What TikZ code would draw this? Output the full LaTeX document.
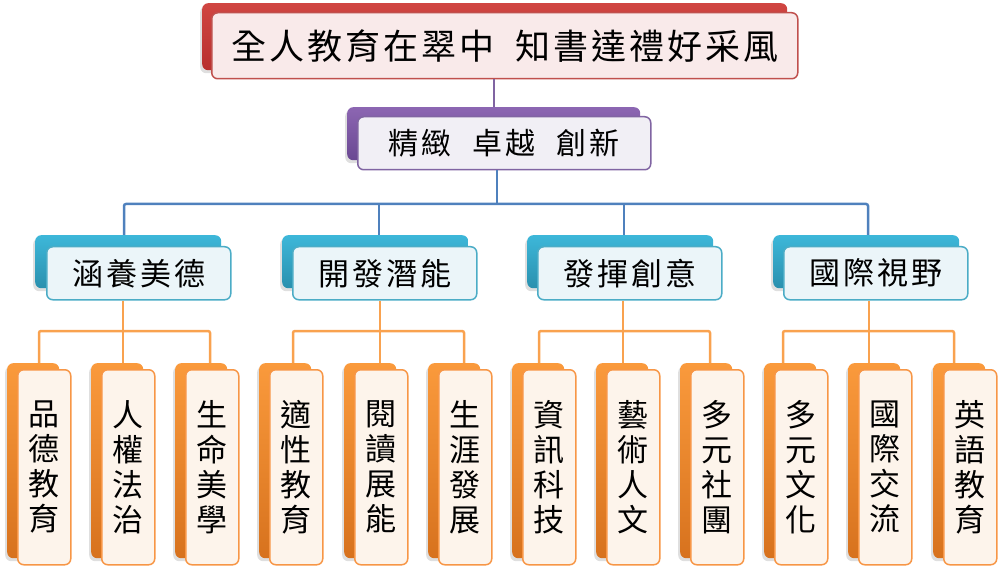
\documentclass[tikz,border=0pt]{standalone}
\usepackage{fontspec}
\newfontfamily\cjk{Noto Sans CJK TC}
\usetikzlibrary{shadows,calc}
\definecolor{redtop}{HTML}{D04642}
\definecolor{redbot}{HTML}{B8302E}
\definecolor{redfront}{HTML}{F9EAEA}
\definecolor{redborder}{HTML}{C0504D}
\definecolor{purtop}{HTML}{8C66B2}
\definecolor{purbot}{HTML}{6A4892}
\definecolor{purfront}{HTML}{F1EFF5}
\definecolor{purborder}{HTML}{8064A2}
\definecolor{cyantop}{HTML}{3DB7D9}
\definecolor{cyanbot}{HTML}{2A90AE}
\definecolor{cyanfront}{HTML}{EBF5F9}
\definecolor{cyanborder}{HTML}{4BACC6}
\definecolor{ortop}{HTML}{FA9A3C}
\definecolor{orbot}{HTML}{D7721E}
\definecolor{orfront}{HTML}{FDF4EB}
\definecolor{orborder}{HTML}{F79646}
\definecolor{blueln}{HTML}{4F81BD}
\definecolor{orln}{HTML}{F9A24F}
\definecolor{purln}{HTML}{8064A2}
\newcommand\cg{\kern3pt}
\begin{document}
\begin{tikzpicture}[x=1pt,y=-1pt,
  backbox/.style={rounded corners=6pt, anchor=north west, inner sep=0pt,
    drop shadow={opacity=0.25, shadow xshift=-2pt, shadow yshift=-3pt}},
  frontbox/.style={draw, line width=1.5pt, rounded corners=6pt, anchor=north west,
    inner sep=0pt, align=center, text=black},
  redback/.style={backbox, top color=redtop, bottom color=redbot},
  purback/.style={backbox, top color=purtop, bottom color=purbot},
  cyanback/.style={backbox, top color=cyantop, bottom color=cyanbot, minimum width=186pt, minimum height=53pt},
  orback/.style={backbox, top color=ortop, bottom color=orbot, minimum width=52pt, minimum height=195pt},
  cyanfrontbox/.style={frontbox, fill=cyanfront, draw=cyanborder, minimum width=184pt, minimum height=53pt,
    font={\cjk\fontsize{31}{36}\selectfont}},
  orfrontbox/.style={frontbox, fill=orfront, draw=orborder, minimum width=53pt, minimum height=195pt,
    font={\cjk\fontsize{31}{35}\selectfont}},
  purline/.style={draw=purln, line width=2pt},
  blueline/.style={draw=blueln, line width=2.5pt, rounded corners=2pt},
  orline/.style={draw=orln, line width=2.5pt, rounded corners=2pt}
]
\path[use as bounding box] (0,0) rectangle (1006,569);

% ---------- nodes (drawn later via layers order: lines first) ----------
% coordinates for junctions
\coordinate (bus) at (497,204);
\coordinate (j1) at (124,204);
\coordinate (j2) at (379,204);
\coordinate (j3) at (624,204);
\coordinate (j4) at (868,204);
\foreach \i/\m/\a/\c in {1/123/39/210, 2/380/293/464, 3/623/539/710, 4/869/783/954}{
  \coordinate (om\i) at (\m,331);
  \coordinate (oa\i) at (\a,331);
  \coordinate (oc\i) at (\c,331);
}

% invisible placement of boxes to get anchors: define nodes in order
% top
\node[redback, minimum width=585pt, minimum height=67pt] (topb) at (202,3) {};
\node[purback, minimum width=293pt, minimum height=53pt] (midb) at (347,107) {};
\foreach \i/\x in {1/35, 2/282, 3/527, 4/773}{
  \node[cyanback] (lb\i) at (\x,235) {};
}
\foreach \g/\xa/\xb/\xc in {1/17/101/185, 2/269/354/438, 3/522/606/690, 4/774/858/943}{
  \node[orback] (leafb\g a) at (\xa-10,363) {};
  \node[orback] (leafb\g b) at (\xb-10,363) {};
  \node[orback] (leafb\g c) at (\xc-10,363) {};
}

% front boxes
\node[frontbox, fill=redfront, draw=redborder, minimum width=586pt, minimum height=66pt,
  font={\cjk\fontsize{35}{40}\selectfont}] (topf) at (211,12)
  {全\cg 人\cg 教\cg 育\cg 在\cg 翠\cg 中\kern21pt 知\cg 書\cg 達\cg 禮\cg 好\cg 采\cg 風};
\node[frontbox, fill=purfront, draw=purborder, minimum width=293pt, minimum height=53pt,
  font={\cjk\fontsize{30}{36}\selectfont}] (midf) at (357,116)
  {精\cg 緻\kern21pt 卓\cg 越\kern21pt 創\cg 新};

\node[cyanfrontbox] (lf1) at (46,246) {涵\cg 養\cg 美\cg 德};
\node[cyanfrontbox] (lf2) at (292,246) {開\cg 發\cg 潛\cg 能};
\node[cyanfrontbox] (lf3) at (537,246) {發\cg 揮\cg 創\cg 意};
\node[cyanfrontbox] (lf4) at (783,246) {國\cg 際\cg 視\cg 野};

\node[orfrontbox] (leaf1a) at (17,369) {品\\德\\教\\育};
\node[orfrontbox] (leaf1b) at (101,369) {人\\權\\法\\治};
\node[orfrontbox] (leaf1c) at (185,369) {生\\命\\美\\學};
\node[orfrontbox] (leaf2a) at (269,369) {適\\性\\教\\育};
\node[orfrontbox] (leaf2b) at (354,369) {閱\\讀\\展\\能};
\node[orfrontbox] (leaf2c) at (438,369) {生\\涯\\發\\展};
\node[orfrontbox] (leaf3a) at (522,369) {資\\訊\\科\\技};
\node[orfrontbox] (leaf3b) at (606,369) {藝\\術\\人\\文};
\node[orfrontbox] (leaf3c) at (690,369) {多\\元\\社\\團};
\node[orfrontbox] (leaf4a) at (774,369) {多\\元\\文\\化};
\node[orfrontbox] (leaf4b) at (858,369) {國\\際\\交\\流};
\node[orfrontbox] (leaf4c) at (943,369) {英\\語\\教\\育};

% ---------- connectors (short visible segments between boxes) ----------
\draw[purline] (topf.south -| midb.north) -- (midb.north);
\draw[blueline] (midf.south -| bus) -- (bus);
\draw[blueline] (j1 |- lb1.north) -- (j1) -- (j4) -- (j4 |- lb4.north);
\draw[blueline] (j2) -- (j2 |- lb2.north);
\draw[blueline] (j3) -- (j3 |- lb3.north);
\foreach \i in {1,2,3,4}{
  \draw[orline] (lf\i.south -| om\i) -- (om\i);
  \draw[orline] (oa\i |- leafb\i a.north) -- (oa\i) -- (oc\i) -- (oc\i |- leafb\i c.north);
  \draw[orline] (om\i) -- (om\i |- leafb\i b.north);
}
\end{tikzpicture}
\end{document}
